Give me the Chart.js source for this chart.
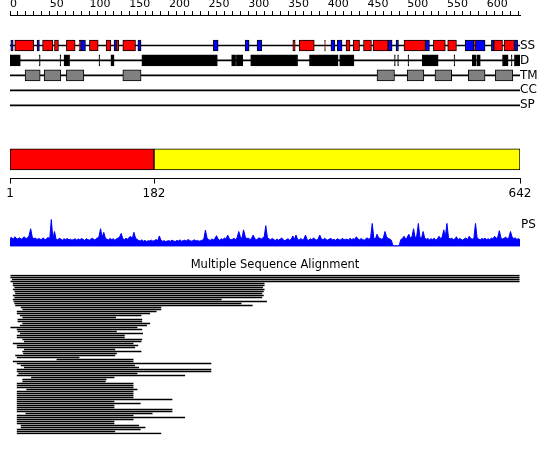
<!DOCTYPE html>
<html><head><meta charset="utf-8">
<script src="https://cdn.jsdelivr.net/npm/chart.js@4.4.0/dist/chart.umd.min.js"></script>
<style>
html,body{margin:0;padding:0;background:#fff;}
#wrap{position:relative;width:550px;height:455px;overflow:hidden;background:#fff;}
canvas{position:absolute;left:0;}
</style></head><body>
<div id="wrap">
<canvas id="ruler" width="550" height="30" style="top:0px;width:550px;height:30px"></canvas>
<canvas id="tracks" width="550" height="90" style="top:30px;width:550px;height:90px"></canvas>
<canvas id="domain" width="550" height="64" style="top:140px;width:550px;height:64px"></canvas>
<canvas id="ps" width="550" height="45" style="top:210px;width:550px;height:45px"></canvas>
<canvas id="msa" width="550" height="185" style="top:255px;width:550px;height:185px"></canvas>
</div>
<script>
// ---------- data ----------
const SEQ_LEN = 642;
const rulerLabels = [0,50,100,150,200,250,300,350,400,450,500,550,600];
const rulerTicks = [0,10,20,30,40,50,60,70,80,90,100,110,120,130,140,150,160,170,180,190,200,210,220,230,240,250,260,270,280,290,300,310,320,330,340,350,360,370,380,390,400,410,420,430,440,450,460,470,480,490,500,510,520,530,540,550,560,570,580,590,600,610,620,630,640];

const trackNames = ['SS','D','TM','CC','SP'];
const helixStart = [6,41,56,71,87,100,121,134,142,356,364,396,423,432,445,457,496,533,551,584,609,622];
const helixEnd   = [30,54,61,82,89,111,127,137,158,359,383,397,428,440,455,476,523,548,562,586,620,635];
const strandStart = [1,34,89,131,161,256,296,311,404,412,476,486,523,573,586,606,635];
const strandEnd   = [4,37,95,134,165,262,301,317,409,418,481,489,528,584,598,609,639];
const disorderStart = [0,37,63,68,112,127,166,279,285,303,377,415,484,488,501,519,559,582,588,620,631,635];
const disorderEnd   = [13,38,64,75,113,131,261,284,293,362,413,433,485,489,502,539,560,587,592,627,632,642];
const tmStart = [19,43,71,142,462,500,535,577,611];
const tmEnd   = [38,64,93,165,484,521,556,598,633];

const domainStart = [1,182];
const domainEnd   = [182,642];
const domainTicks = [1,182,642];

// PS profile, one value every 2 residues (0..642)
const psValues = [
30,34,26,36,30,28,33,27,31,36,29,32,40,65,35,28,32,26,30,27,
27,32,25,29,34,28,98,30,55,27,25,31,28,24,29,26,30,25,27,24,
26,29,24,28,25,30,27,23,29,26,24,28,31,25,27,32,36,65,34,52,
32,27,25,30,26,29,24,28,31,36,48,29,26,31,27,34,37,30,52,32,
26,23,21,25,20,23,19,22,21,24,20,23,26,22,39,24,20,22,19,21,
22,20,24,21,19,23,21,25,20,22,24,21,26,23,20,22,25,21,23,20,
22,24,28,60,32,26,23,28,25,30,40,27,24,29,26,32,28,42,30,25,
27,31,25,34,55,36,30,61,38,28,32,26,30,42,31,25,29,33,27,32,
36,76,34,28,25,30,26,23,28,24,27,32,25,22,26,29,24,27,39,26,
42,27,24,30,25,28,42,26,23,29,25,32,27,24,30,42,28,25,31,26,
24,28,30,25,27,23,29,26,24,30,27,25,28,24,31,26,29,27,36,28,
25,30,26,24,29,32,26,34,84,31,28,45,33,30,27,32,55,36,30,28,
24,5,4,4,4,5,26,30,38,28,34,45,32,36,65,33,38,84,35,30,
55,32,27,30,25,29,26,31,24,28,38,30,34,61,36,84,33,28,31,26,
28,36,25,30,27,24,29,32,26,38,30,27,33,84,32,28,25,30,27,31,
26,29,25,32,28,38,30,34,58,32,28,31,35,29,33,55,36,30,32,27,29,26];
const psPositions = psValues.map((_, i) => i * 2);

// Multiple sequence alignment: aligned span of each hit (residues)
const msaStart = [1,1,3,1,4,4,6,4,6,7,
4,6,4,5,6,7,14,16,9,9,
13,16,10,10,16,13,1,9,10,13,
9,9,16,18,4,9,9,18,16,17,
7,9,59,4,9,14,18,9,9,11,
9,27,16,16,9,9,9,21,9,9,
9,9,9,9,9,9,9,9,9,20,
9,9,9,9,9,14,14,9,9,9];
const msaEnd = [641,641,641,641,320,320,318,320,319,317,
319,317,266,323,291,305,190,190,184,176,
165,133,166,166,176,172,160,166,134,167,
144,144,166,165,155,161,157,132,165,134,
132,87,155,155,253,157,162,253,253,160,
220,131,121,120,155,155,155,160,155,155,
155,155,204,131,164,131,131,204,204,179,
155,220,155,131,131,162,170,164,132,190];
const msaLabels = msaStart.map((_, i) => 'hit' + (i + 1));

// ---------- charts ----------
Chart.defaults.font.family = 'DejaVu Sans';
Chart.defaults.color = '#000';
Chart.defaults.animation = false;
Chart.defaults.responsive = false;
Chart.defaults.plugins.legend.display = false;
Chart.defaults.plugins.tooltip.enabled = false;

// residue ruler
new Chart(document.getElementById('ruler'), {
  type: 'scatter',
  data: { datasets: [] },
  options: {
    layout: { padding: { left: 10, right: 30, top: 0, bottom: 0 } },
    scales: {
      x: {
        type: 'linear', position: 'top', min: 0, max: SEQ_LEN,
        afterBuildTicks: s => { s.ticks = rulerTicks.map(v => ({ value: v })); },
        ticks: { autoSkip: false, maxRotation: 0, minRotation: 0, align: 'start', padding: 0,
          font: { size: 11 }, color: '#000',
          callback: v => rulerLabels.includes(v) ? String(v) : '' },
        grid: { drawOnChartArea: false, drawTicks: true, tickLength: 4, color: '#000', lineWidth: 1 },
        border: { display: true, color: '#000', width: 1 }
      },
      y: { display: false, min: 0, max: 1 }
    }
  }
});

// feature tracks
function spans(track, starts, ends) {
  return starts.map((s, i) => ({ x: [s, ends[i]], y: track }));
}
const boxStyle = { borderColor: '#000', borderWidth: 1, barThickness: 11, borderSkipped: false, grouped: false, order: 0 };
new Chart(document.getElementById('tracks'), {
  type: 'bar',
  data: {
    labels: trackNames,
    datasets: [
      Object.assign({ label: 'helix', data: spans('SS', helixStart, helixEnd), backgroundColor: '#ff0000' }, boxStyle),
      Object.assign({ label: 'strand', data: spans('SS', strandStart, strandEnd), backgroundColor: '#0000ff' }, boxStyle),
      Object.assign({ label: 'disorder', data: spans('D', disorderStart, disorderEnd), backgroundColor: '#000000' }, boxStyle),
      Object.assign({ label: 'tm', data: spans('TM', tmStart, tmEnd), backgroundColor: '#808080' }, boxStyle),
      { label: 'baseline', data: trackNames.map(t => ({ x: [0, SEQ_LEN], y: t })),
        backgroundColor: '#000', borderWidth: 0, barThickness: 1, grouped: false, order: 1 }
    ]
  },
  options: {
    indexAxis: 'y',
    layout: { padding: { left: 10, right: 0, top: 8, bottom: 7 } },
    scales: {
      x: { type: 'linear', min: 0, max: SEQ_LEN, display: false },
      y: { type: 'category', position: 'right',
        grid: { display: false, drawTicks: false }, border: { display: false },
        ticks: { autoSkip: false, padding: 0, font: { size: 12 }, color: '#000' },
        afterFit: s => { s.width = 30; } }
    }
  }
});

// domain bar
const domainColors = ['#ff0000', '#ffff00'];
new Chart(document.getElementById('domain'), {
  type: 'bar',
  data: {
    labels: ['domain'],
    datasets: domainStart.map((s, i) => ({
      data: [{ x: [s, domainEnd[i]], y: 'domain' }],
      backgroundColor: domainColors[i], borderColor: '#000', borderWidth: 1,
      barThickness: 21, borderSkipped: false, grouped: false
    }))
  },
  options: {
    indexAxis: 'y',
    layout: { padding: { left: 10, right: 30, top: 0, bottom: 0 } },
    scales: {
      x: { type: 'linear', position: 'bottom', min: 1, max: SEQ_LEN,
        afterBuildTicks: s => { s.ticks = domainTicks.map(v => ({ value: v })); },
        ticks: { autoSkip: false, maxRotation: 0, minRotation: 0, padding: 3, font: { size: 12 }, color: '#000' },
        grid: { drawOnChartArea: false, tickLength: 5, color: '#000' },
        border: { color: '#000' } },
      y: { type: 'category', display: false }
    }
  }
});

// PS profile
new Chart(document.getElementById('ps'), {
  type: 'line',
  data: { datasets: [{
    data: psValues.map((v, i) => ({ x: psPositions[i], y: v })),
    borderColor: '#0000ff', backgroundColor: '#0000ff', borderWidth: 1,
    pointRadius: 0, fill: 'origin', tension: 0
  }] },
  options: {
    layout: { padding: { left: 10, right: 0, top: 9, bottom: 5 } },
    scales: {
      x: { type: 'linear', min: 0, max: SEQ_LEN, display: false },
      y: { min: 0, max: 100, position: 'right',
        afterFit: s => { s.width = 30; },
        afterBuildTicks: s => { s.ticks = [{ value: 78 }]; },
        ticks: { callback: () => 'PS', padding: 1, font: { size: 12 }, color: '#000' },
        grid: { display: false, drawTicks: false }, border: { display: false } }
    }
  }
});

// multiple sequence alignment
new Chart(document.getElementById('msa'), {
  type: 'bar',
  data: {
    labels: msaLabels,
    datasets: [{
      data: msaStart.map((s, i) => ({ x: [s, msaEnd[i]], y: msaLabels[i] })),
      backgroundColor: '#000', borderWidth: 0, barThickness: 1, borderSkipped: false
    }]
  },
  options: {
    indexAxis: 'y',
    layout: { padding: { left: 10, right: 10, top: 0, bottom: 5.5 } },
    plugins: {
      title: { display: true, text: 'Multiple Sequence Alignment', color: '#000',
        font: { size: 11.5, weight: 'normal' }, padding: { top: 3.1, bottom: 2.6 } }
    },
    scales: {
      x: { type: 'linear', min: 0, max: SEQ_LEN, display: false },
      y: { type: 'category', position: 'right', display: true,
        ticks: { display: false }, grid: { display: false, drawTicks: false }, border: { display: false },
        afterFit: s => { s.width = 20; } }
    }
  }
});
</script>
</body></html>
